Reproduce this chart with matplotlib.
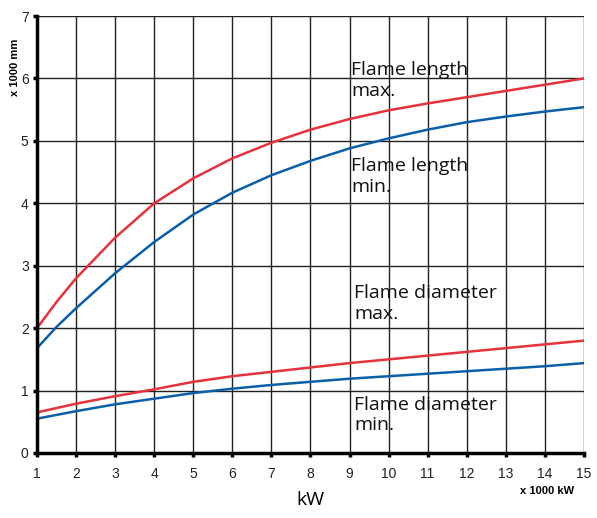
import matplotlib
matplotlib.use('Agg')
import matplotlib.pyplot as plt
import numpy as np

# power in x 1000 kW
kw = [1, 1.5, 2, 3, 4, 5, 6, 7, 8, 9, 10, 11, 12, 13, 14, 15]

# flame size in x 1000 mm
length_max = [2.0, 2.42, 2.8, 3.45, 4.0, 4.4, 4.72, 4.97, 5.18, 5.35, 5.49, 5.6, 5.7, 5.8, 5.9, 6.0]
length_min = [1.68, 2.02, 2.32, 2.88, 3.38, 3.82, 4.17, 4.45, 4.68, 4.88, 5.04, 5.18, 5.3, 5.39, 5.47, 5.54]
diameter_max = [0.65, 0.72, 0.79, 0.91, 1.02, 1.14, 1.23, 1.30, 1.37, 1.44, 1.50, 1.56, 1.62, 1.68, 1.74, 1.80]
diameter_min = [0.55, 0.61, 0.67, 0.78, 0.87, 0.96, 1.03, 1.09, 1.14, 1.19, 1.23, 1.27, 1.31, 1.35, 1.39, 1.44]

labels = [
    (9.05, 6.28, 'Flame length\nmax.'),
    (9.05, 4.74, 'Flame length\nmin.'),
    (9.12, 2.7, 'Flame diameter\nmax.'),
    (9.12, 0.92, 'Flame diameter\nmin.'),
]

red = '#e6323c'
blue = '#0a5fa8'

plt.rcParams['font.family'] = ['Open Sans', 'DejaVu Sans']

fig = plt.figure(figsize=(5.97, 5.18), dpi=100)
ax = fig.add_axes([0.062, 0.1255, 0.916, 0.8435])

ax.plot(kw, length_max, color=red, lw=1.8)
ax.plot(kw, length_min, color=blue, lw=1.8)
ax.plot(kw, diameter_max, color=red, lw=1.8)
ax.plot(kw, diameter_min, color=blue, lw=1.8)

for x, y, s in labels:
    ax.text(x, y, s, fontsize=14, va='top', ha='left', color='#111111',
            linespacing=1.2)

ax.set_xlim(1, 15)
ax.set_ylim(0, 7)
ax.set_xticks(range(1, 16))
ax.set_yticks(range(0, 8))
ax.grid(True, color='#222222', lw=1.0)
ax.set_axisbelow(True)

for side in ['top', 'right']:
    ax.spines[side].set_visible(False)
ax.spines['left'].set_linewidth(2.5)
ax.spines['bottom'].set_linewidth(2.5)
ax.tick_params(axis='both', direction='out', length=3, width=2.5,
               labelsize=10, colors='black', labelcolor='#222222')
for lab in ax.get_xticklabels() + ax.get_yticklabels():
    lab.set_family('Liberation Sans')
ax.tick_params(axis='x', pad=7)
ax.tick_params(axis='y', pad=3)

fig.text(0.025, 0.87, 'x 1000 mm', rotation=90, fontsize=8,
         fontweight='bold', family='Liberation Sans', ha='center', va='center')
fig.text(0.916, 0.052, 'x 1000 kW', fontsize=8, fontweight='bold',
         family='Liberation Sans', ha='center', va='center')
fig.text(0.52, 0.035, 'kW', fontsize=14, ha='center', va='center')

fig.savefig('out.png', dpi=100)
